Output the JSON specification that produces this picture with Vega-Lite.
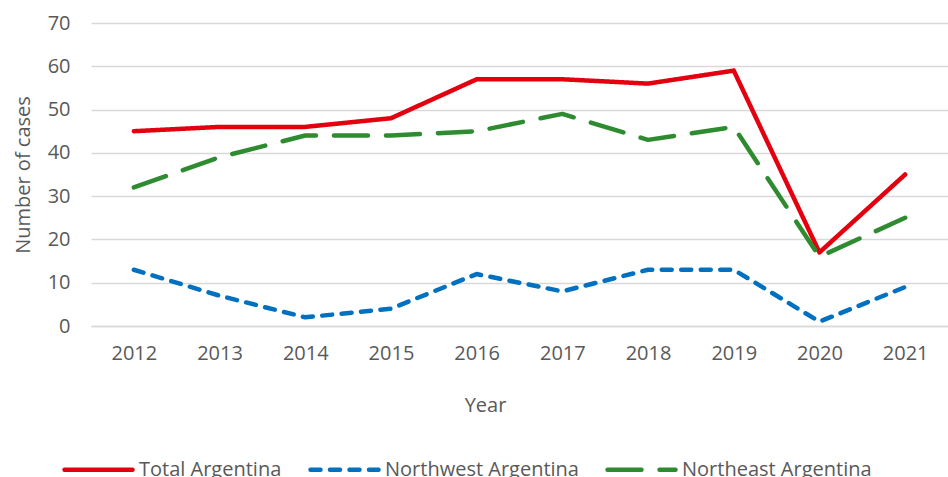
{
  "$schema": "https://vega.github.io/schema/vega-lite/v6.json",
  "autosize": {"type": "none"},
  "padding": {"left": 91, "top": 23, "right": 0, "bottom": 151},
  "width": 857,
  "height": 303,
  "background": "white",
  "config": {
    "font": "Open Sans",
    "view": {"stroke": null}
  },
  "data": {
    "values": [
      {"year": "2012", "series": "Total Argentina", "cases": 45},
      {"year": "2013", "series": "Total Argentina", "cases": 46},
      {"year": "2014", "series": "Total Argentina", "cases": 46},
      {"year": "2015", "series": "Total Argentina", "cases": 48},
      {"year": "2016", "series": "Total Argentina", "cases": 57},
      {"year": "2017", "series": "Total Argentina", "cases": 57},
      {"year": "2018", "series": "Total Argentina", "cases": 56},
      {"year": "2019", "series": "Total Argentina", "cases": 59},
      {"year": "2020", "series": "Total Argentina", "cases": 17},
      {"year": "2021", "series": "Total Argentina", "cases": 35},
      {"year": "2012", "series": "Northwest Argentina", "cases": 13},
      {"year": "2013", "series": "Northwest Argentina", "cases": 7},
      {"year": "2014", "series": "Northwest Argentina", "cases": 2},
      {"year": "2015", "series": "Northwest Argentina", "cases": 4},
      {"year": "2016", "series": "Northwest Argentina", "cases": 12},
      {"year": "2017", "series": "Northwest Argentina", "cases": 8},
      {"year": "2018", "series": "Northwest Argentina", "cases": 13},
      {"year": "2019", "series": "Northwest Argentina", "cases": 13},
      {"year": "2020", "series": "Northwest Argentina", "cases": 1},
      {"year": "2021", "series": "Northwest Argentina", "cases": 9},
      {"year": "2012", "series": "Northeast Argentina", "cases": 32},
      {"year": "2013", "series": "Northeast Argentina", "cases": 39},
      {"year": "2014", "series": "Northeast Argentina", "cases": 44},
      {"year": "2015", "series": "Northeast Argentina", "cases": 44},
      {"year": "2016", "series": "Northeast Argentina", "cases": 45},
      {"year": "2017", "series": "Northeast Argentina", "cases": 49},
      {"year": "2018", "series": "Northeast Argentina", "cases": 43},
      {"year": "2019", "series": "Northeast Argentina", "cases": 46},
      {"year": "2020", "series": "Northeast Argentina", "cases": 16},
      {"year": "2021", "series": "Northeast Argentina", "cases": 25}
    ]
  },
  "mark": {"type": "line", "strokeWidth": 4.5, "strokeCap": "round", "strokeJoin": "round"},
  "encoding": {
    "x": {
      "field": "year",
      "type": "ordinal",
      "scale": {"type": "point", "padding": 0.5},
      "axis": {
        "title": "Year",
        "labelAngle": 0,
        "labelFontSize": 20,
        "labelColor": "#595959",
        "labelPadding": 17,
        "ticks": false,
        "domain": true,
        "domainColor": "#D9D9D9",
        "domainWidth": 1.5,
        "titleFontSize": 20,
        "titleFontWeight": "normal",
        "titleColor": "#595959",
        "titleX": 394,
        "titleY": 79,
        "titleAlign": "center",
        "titleBaseline": "middle"
      }
    },
    "y": {
      "field": "cases",
      "type": "quantitative",
      "scale": {"domain": [0, 70], "nice": false},
      "axis": {
        "title": "Number of cases",
        "values": [0, 10, 20, 30, 40, 50, 60, 70],
        "labelFontSize": 20,
        "labelColor": "#595959",
        "labelPadding": 21,
        "ticks": false,
        "domain": false,
        "gridColor": "#D9D9D9",
        "gridWidth": 1.5,
        "titleFontSize": 20,
        "titleFontWeight": "normal",
        "titleColor": "#595959",
        "titlePadding": 14
      }
    },
    "color": {
      "field": "series",
      "type": "nominal",
      "scale": {
        "domain": ["Total Argentina", "Northwest Argentina", "Northeast Argentina"],
        "range": ["#E3000F", "#0070C0", "#2E8B30"]
      },
      "legend": {
        "title": null,
        "orient": "none",
        "direction": "horizontal",
        "legendX": -29,
        "legendY": 410,
        "labelFontSize": 20,
        "labelColor": "#595959",
        "labelOffset": 4,
        "labelLimit": 400,
        "symbolType": "stroke",
        "symbolSize": 4624,
        "symbolStrokeWidth": 4.5,
        "columnPadding": 19,
        "encode": {"symbols": {"update": {"strokeCap": {"value": "round"}}}}
      }
    },
    "strokeDash": {
      "field": "series",
      "type": "nominal",
      "scale": {
        "domain": ["Total Argentina", "Northwest Argentina", "Northeast Argentina"],
        "range": [[1, 0], [10, 9.5], [34, 18]]
      },
      "legend": null
    }
  }
}
